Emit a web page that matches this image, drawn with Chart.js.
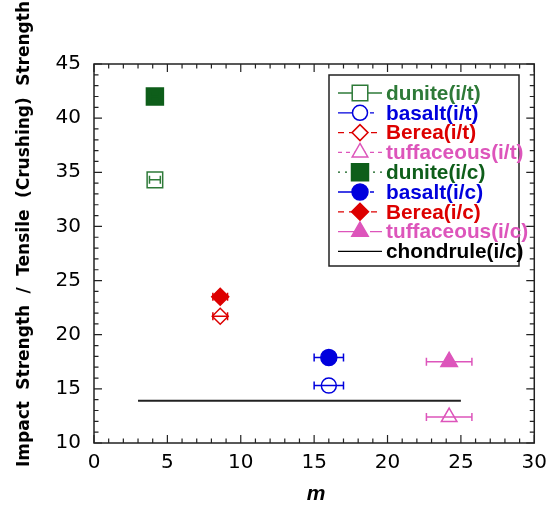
<!DOCTYPE html>
<html lang="en">
<head>
  <meta charset="UTF-8">
  <title>Impact strength vs m</title>
  <style>
    body { margin: 0; background: #fff; }
    .wrap { width: 555px; height: 508px; position: relative; }
  </style>
</head>
<body>
  <div class="wrap"><canvas id="chart" width="555" height="508"></canvas></div>

  <script src="https://cdn.jsdelivr.net/npm/chart.js"></script>
  <script>
    // values
    const seriesNames = ['dunite(i/t)', 'basalt(i/t)', 'Berea(i/t)', 'tuffaceous(i/t)',
                         'dunite(i/c)', 'basalt(i/c)', 'Berea(i/c)', 'tuffaceous(i/c)'];
    const mValues     = [4.15, 16.0, 8.6, 24.2, 4.15, 16.0, 8.6, 24.2];
    const ratioValues = [34.3, 15.3, 21.7, 12.4, 42.0, 17.9, 23.5, 17.5];
    const mErrors     = [0.37, 1.0, 0.5, 1.55, 0.3, 1.0, 0.5, 1.55];
    const chondruleName = 'chondrule(i/c)';
    const chondruleM = [3, 25];
    const chondruleRatio = [13.9, 13.9];
    const xTicks = [0, 5, 10, 15, 20, 25, 30];
    const yTicks = [10, 15, 20, 25, 30, 35, 40, 45];

    const styles = [
      { color: '#2e7a38', shape: 'rect', filled: false, r: 11, dash: [] },
      { color: '#0000dd', shape: 'circle', filled: false, r: 7.5, dash: [22, 10, 4, 10] },
      { color: '#dd0000', shape: 'rectRot', filled: false, r: 8, dash: [6, 5] },
      { color: '#dd55bb', shape: 'triangle', filled: false, r: 9, dash: [4, 4] },
      { color: '#0e5e1a', shape: 'rect', filled: true, r: 12, dash: [2, 5] },
      { color: '#0000dd', shape: 'circle', filled: true, r: 8, dash: [22, 10, 4, 10] },
      { color: '#dd0000', shape: 'rectRot', filled: true, r: 8.5, dash: [6, 5] },
      { color: '#dd55bb', shape: 'triangle', filled: true, r: 9.5, dash: [18, 6, 2, 6] }
    ];

    const datasets = seriesNames.map((name, i) => ({
      label: name,
      data: [{ x: mValues[i], y: ratioValues[i] }],
      showLine: false,
      pointStyle: styles[i].shape,
      pointRadius: styles[i].r,
      pointHoverRadius: styles[i].r,
      pointBorderWidth: 1.5,
      pointBorderColor: styles[i].color,
      pointBackgroundColor: styles[i].filled ? styles[i].color : 'rgba(0,0,0,0)',
      errX: mErrors[i],
      order: i < 4 ? 1 : 0
    }));
    datasets.push({
      label: chondruleName,
      data: chondruleM.map((m, i) => ({ x: m, y: chondruleRatio[i] })),
      showLine: true,
      borderColor: '#222',
      borderWidth: 2,
      pointRadius: 0
    });

    const box = { left: 94, top: 64, right: 537, bottom: 443 };

    const extras = {
      id: 'extras',
      afterDatasetsDraw(chart) {
        const ctx = chart.ctx;
        const xs = chart.scales.x, ys = chart.scales.y;
        ctx.save();
        chart.data.datasets.forEach(ds => {
          if (!ds.errX) return;
          const p = ds.data[0];
          const x1 = xs.getPixelForValue(p.x - ds.errX);
          const x2 = xs.getPixelForValue(p.x + ds.errX);
          const y = ys.getPixelForValue(p.y);
          ctx.strokeStyle = ds.pointBorderColor;
          ctx.lineWidth = 1.5;
          ctx.beginPath();
          ctx.moveTo(x1, y); ctx.lineTo(x2, y);
          ctx.moveTo(x1, y - 4); ctx.lineTo(x1, y + 4);
          ctx.moveTo(x2, y - 4); ctx.lineTo(x2, y + 4);
          ctx.stroke();
        });
        ctx.restore();
      },
      afterDraw(chart) {
        const ctx = chart.ctx;
        const a = chart.chartArea;
        const xs = chart.scales.x, ys = chart.scales.y;
        ctx.save();

        // frame and inward ticks on all four sides
        ctx.strokeStyle = '#222';
        ctx.lineWidth = 1.5;
        ctx.strokeRect(a.left, a.top, a.right - a.left, a.bottom - a.top);
        ctx.lineWidth = 1.2;
        ctx.beginPath();
        for (let v = 0; v <= 30; v++) {
          const x = xs.getPixelForValue(v);
          const len = v % 5 === 0 ? 8 : 4.5;
          ctx.moveTo(x, a.bottom); ctx.lineTo(x, a.bottom - len);
          ctx.moveTo(x, a.top); ctx.lineTo(x, a.top + len);
        }
        for (let v = 10; v <= 45; v++) {
          const y = ys.getPixelForValue(v);
          const len = v % 5 === 0 ? 8 : 4.5;
          ctx.moveTo(a.left, y); ctx.lineTo(a.left + len, y);
          ctx.moveTo(a.right, y); ctx.lineTo(a.right - len, y);
        }
        ctx.stroke();

        // y axis title, words spread between y=467 and y=1
        const words = ['Impact', 'Strength', '/', 'Tensile', '(Crushing)', 'Strength'];
        ctx.font = 'bold 17px "DejaVu Sans"';
        ctx.fillStyle = '#000';
        ctx.textBaseline = 'middle';
        ctx.textAlign = 'left';
        const widths = words.map(w => ctx.measureText(w).width);
        const total = 466;
        const gap = (total - widths.reduce((s, w) => s + w, 0)) / (words.length - 1);
        ctx.translate(25, 467);
        ctx.rotate(-Math.PI / 2);
        let pos = 0;
        words.forEach((w, i) => { ctx.fillText(w, pos, 0); pos += widths[i] + gap; });
        ctx.setTransform(1, 0, 0, 1, 0, 0);

        // x axis title
        ctx.font = 'italic bold 21px "Liberation Sans"';
        ctx.textAlign = 'center';
        ctx.fillText('m', 316, 494);

        // legend
        const lg = { left: 329, top: 75, right: 519, bottom: 266 };
        ctx.fillStyle = '#fff';
        ctx.fillRect(lg.left, lg.top, lg.right - lg.left, lg.bottom - lg.top);
        ctx.strokeStyle = '#222';
        ctx.lineWidth = 1.5;
        ctx.strokeRect(lg.left, lg.top, lg.right - lg.left, lg.bottom - lg.top);

        ctx.font = 'bold 17px "Liberation Sans"';
        const fit = 142 / ctx.measureText('tuffaceous(i/c)').width;
        ctx.font = 'bold ' + (17 * fit).toFixed(1) + 'px "Liberation Sans"';
        ctx.textAlign = 'left';
        ctx.textBaseline = 'middle';
        const names = seriesNames.concat([chondruleName]);
        names.forEach((name, i) => {
          const y = 93 + i * 19.8;
          const st = styles[i] || { color: '#000', dash: [] };
          ctx.strokeStyle = st.color;
          ctx.lineWidth = 1.3;
          ctx.setLineDash(st.dash);
          ctx.beginPath();
          ctx.moveTo(338, y); ctx.lineTo(382, y);
          ctx.stroke();
          ctx.setLineDash([]);
          if (styles[i]) {
            ctx.fillStyle = st.filled ? st.color : '#fff';
            ctx.lineWidth = 1.5;
            Chart.helpers.drawPoint(ctx, {
              pointStyle: st.shape, radius: st.r, rotation: 0, borderWidth: 1.5
            }, 360, y);
          }
          ctx.fillStyle = st.color;
          ctx.fillText(name, 386, y + 1);
        });
        ctx.restore();
      }
    };

    new Chart(document.getElementById('chart').getContext('2d'), {
      type: 'scatter',
      data: { datasets },
      options: {
        responsive: false,
        animation: false,
        layout: { padding: { left: 0, top: box.top, right: 555 - box.right, bottom: 0 } },
        plugins: { legend: { display: false }, tooltip: { enabled: false } },
        scales: {
          x: {
            type: 'linear', min: 0, max: 30,
            afterFit(s) { s.height = 508 - box.bottom; },
            afterBuildTicks(s) { s.ticks = xTicks.map(v => ({ value: v })); },
            grid: { display: false, drawTicks: false },
            border: { display: false },
            ticks: { color: '#000', padding: 8, maxRotation: 0, font: { family: 'DejaVu Sans', size: 20 } }
          },
          y: {
            type: 'linear', min: 10, max: 45,
            afterFit(s) { s.width = box.left; },
            afterBuildTicks(s) { s.ticks = yTicks.map(v => ({ value: v })); },
            grid: { display: false, drawTicks: false },
            border: { display: false },
            ticks: { color: '#000', padding: 13, font: { family: 'DejaVu Sans', size: 20 } }
          }
        }
      },
      plugins: [extras]
    });
  </script>
</body>
</html>
